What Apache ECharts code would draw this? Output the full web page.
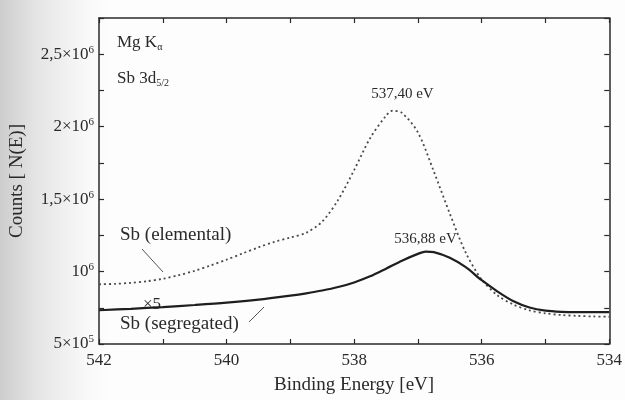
<!DOCTYPE html>
<html>
<head>
<meta charset="utf-8">
<script src="https://cdn.jsdelivr.net/npm/echarts@6/dist/echarts.min.js"></script>
<style>
    html, body { margin: 0; padding: 0; }
    body { background: linear-gradient(to right, #cdcdcd 0px, #e4e4e4 35px, #f8f8f8 85px, #fdfdfd 110px); }
    #chart { width: 625px; height: 400px; }
</style>
</head>
<body>
<div id="chart"></div>
<script>
// binding energy [eV] and counts
var elementalEnergy = [542, 541.75, 541.5, 541.25, 541, 540.75, 540.5, 540.25, 540, 539.75, 539.5, 539.25, 539,
    538.75, 538.5, 538.25, 538, 537.75, 537.5, 537.4, 537.25, 537, 536.75, 536.5, 536.25, 536, 535.75, 535.5,
    535.25, 535, 534.75, 534.5, 534.25, 534];
var elementalCounts = [912000, 915000, 922000, 933000, 950000, 975000, 1005000, 1042000, 1082000, 1125000, 1167000,
    1205000, 1235000, 1268000, 1345000, 1495000, 1700000, 1920000, 2075000, 2110000, 2095000, 1960000, 1690000,
    1400000, 1130000, 945000, 835000, 772000, 732000, 712000, 700000, 694000, 690000, 688000];

var segregatedEnergy = [542, 541.5, 541, 540.5, 540, 539.5, 539, 538.75, 538.5, 538.25, 538, 537.75, 537.5, 537.25,
    537, 536.88, 536.75, 536.5, 536.25, 536, 535.75, 535.5, 535.25, 535, 534.75, 534.5, 534];
var segregatedCounts = [733000, 743000, 755000, 769000, 785000, 806000, 834000, 850000, 869000, 893000, 925000,
    967000, 1020000, 1075000, 1122000, 1138000, 1134000, 1095000, 1030000, 940000, 862000, 795000, 752000, 730000,
    722000, 720000, 720000];

var xTickLabels = {542: '542', 540: '540', 538: '538', 536: '536', 534: '534'};
var yTickLabels = {
    500000: '5×10{sup|5}',
    1000000: '10{sup|6}',
    1500000: '1,5×10{sup|6}',
    2000000: '2×10{sup|6}',
    2500000: '2,5×10{sup|6}'
};

var elementalPeak = [537.40, 2110000];
var segregatedPeak = [536.88, 1138000];

var FONT = '"Liberation Serif", "DejaVu Serif", serif';
var INK = '#2a2a2a';

function pairs(xs, ys) {
    var out = [];
    for (var i = 0; i < xs.length; i++) {
        out.push([xs[i], ys[i]]);
    }
    return out;
}

var dom = document.getElementById('chart');
var myChart = echarts.init(dom, null, {renderer: 'canvas'});

var xBase = {
    type: 'value',
    min: 534,
    max: 542,
    interval: 1,
    inverse: true,
    splitLine: {show: false},
    axisLine: {lineStyle: {color: INK, width: 1.5}},
    axisTick: {inside: true, length: 5, lineStyle: {color: INK, width: 1.2}}
};
var yBase = {
    type: 'value',
    min: 500000,
    max: 2750000,
    interval: 250000,
    splitLine: {show: false},
    axisLine: {show: true, lineStyle: {color: INK, width: 1.5}},
    axisTick: {inside: true, length: 5, lineStyle: {color: INK, width: 1.2}}
};

var option = {
    animation: false,
    textStyle: {fontFamily: FONT},
    grid: {left: 98, right: 14, top: 18, bottom: 53},
    xAxis: [
        echarts.util.merge({
            position: 'bottom',
            name: 'Binding Energy [eV]',
            nameLocation: 'middle',
            nameGap: 32,
            nameTextStyle: {fontFamily: FONT, fontSize: 19, color: INK},
            axisLabel: {
                margin: 8,
                fontFamily: FONT,
                fontSize: 17,
                color: INK,
                formatter: function (v) { return xTickLabels[v] || ''; }
            }
        }, xBase, true),
        echarts.util.merge({position: 'top', axisLabel: {show: false}}, xBase, true)
    ],
    yAxis: [
        echarts.util.merge({
            position: 'left',
            name: 'Counts [ N(E)]',
            nameLocation: 'middle',
            nameGap: 72,
            nameTextStyle: {fontFamily: FONT, fontSize: 19, color: INK},
            axisLabel: {
                margin: 5,
                fontFamily: FONT,
                fontSize: 17,
                color: INK,
                formatter: function (v) { return yTickLabels[v] || ''; },
                rich: {
                    sup: {fontFamily: FONT, fontSize: 11, color: INK, verticalAlign: 'bottom', padding: [0, 0, 9, 0]}
                }
            }
        }, yBase, true),
        echarts.util.merge({position: 'right', axisLabel: {show: false}}, yBase, true)
    ],
    series: [
        {
            name: 'Sb (elemental)',
            type: 'line',
            smooth: 0.3,
            showSymbol: false,
            lineStyle: {type: [2, 3], width: 1.8, color: '#4a4a4a'},
            data: pairs(elementalEnergy, elementalCounts),
            markPoint: {
                symbol: 'circle',
                symbolSize: 0,
                label: {
                    show: true,
                    position: 'top',
                    offset: [10, -4],
                    fontFamily: FONT,
                    fontSize: 15,
                    color: INK,
                    formatter: '537,40 eV'
                },
                data: [{coord: elementalPeak}]
            }
        },
        {
            name: 'Sb (segregated)',
            type: 'line',
            smooth: 0.3,
            showSymbol: false,
            lineStyle: {type: 'solid', width: 2.2, color: '#1e1e1e'},
            data: pairs(segregatedEnergy, segregatedCounts),
            markPoint: {
                symbol: 'circle',
                symbolSize: 0,
                label: {
                    show: true,
                    position: 'top',
                    offset: [0, 0],
                    fontFamily: FONT,
                    fontSize: 15,
                    color: INK,
                    formatter: '536,88 eV'
                },
                data: [{coord: segregatedPeak}]
            }
        }
    ],
    graphic: [
        {
            type: 'text', left: 117, top: 34,
            style: {
                text: 'Mg K{sub|α}',
                font: '17px ' + FONT,
                fill: INK,
                rich: {sub: {fontFamily: FONT, fontSize: 10, fill: INK, verticalAlign: 'top', padding: [10, 0, 0, 0]}}
            }
        },
        {
            type: 'text', left: 117, top: 70,
            style: {
                text: 'Sb 3d{sub|5/2}',
                font: '17px ' + FONT,
                fill: INK,
                rich: {sub: {fontFamily: FONT, fontSize: 10, fill: INK, verticalAlign: 'top', padding: [10, 0, 0, 0]}}
            }
        },
        {type: 'text', left: 120, top: 226, style: {text: 'Sb (elemental)', font: '19px ' + FONT, fill: INK}},
        {type: 'text', left: 143, top: 296, style: {text: '×5', font: '17px ' + FONT, fill: INK}},
        {type: 'text', left: 120, top: 315, style: {text: 'Sb (segregated)', font: '19px ' + FONT, fill: INK}},
        // leader lines to the curves
        {type: 'line', shape: {x1: 142, y1: 249, x2: 163, y2: 272}, style: {stroke: '#555', lineWidth: 1}},
        {type: 'line', shape: {x1: 249, y1: 322, x2: 264, y2: 307}, style: {stroke: '#555', lineWidth: 1}}
    ]
};

if (option && typeof option === 'object') {
    myChart.setOption(option, true);
}
</script>
</body>
</html>
